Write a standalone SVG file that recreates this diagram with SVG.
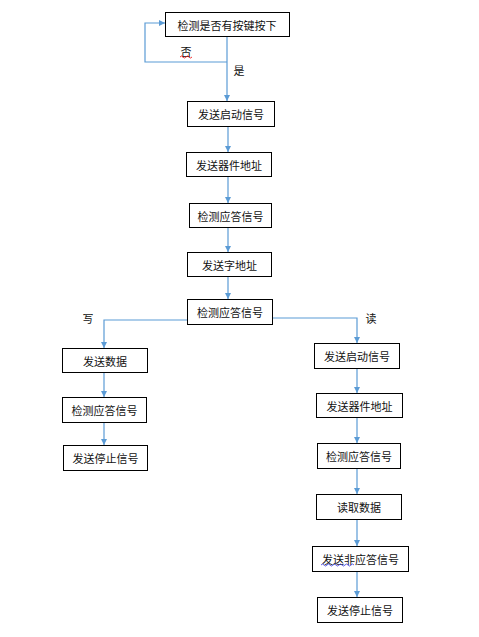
<svg xmlns="http://www.w3.org/2000/svg" width="479" height="637" viewBox="0 0 479 637">
<style>
.box rect{fill:#fff;stroke:#000;stroke-width:1}
text{font-family:"Noto Sans CJK SC","Liberation Sans",sans-serif;font-size:11px;fill:#111;text-anchor:middle;dominant-baseline:central}
.conn path{fill:none;stroke:#5B9BD5;stroke-width:1.2}
.sq{fill:none;stroke-width:0.8}
</style>
<defs>
<marker id="ah" viewBox="0 0 6 6" refX="6" refY="3" markerWidth="6" markerHeight="6" markerUnits="userSpaceOnUse" orient="auto">
<path d="M0,0 L6,3 L0,6 z" fill="#5B9BD5"/>
</marker>
</defs>
<rect width="479" height="637" fill="#fff"/>
<g class="conn" id="connectors">
<path d="M227,36 V101" marker-end="url(#ah)"/>
<path d="M227,62 H145 V23 H165" marker-end="url(#ah)"/>
<path d="M228,127 V152" marker-end="url(#ah)"/>
<path d="M228,177 V203" marker-end="url(#ah)"/>
<path d="M228,228 V252" marker-end="url(#ah)"/>
<path d="M228,277 V299" marker-end="url(#ah)"/>
<path d="M187,320 H104 V348" marker-end="url(#ah)"/>
<path d="M272,318 H357 V343" marker-end="url(#ah)"/>
<path d="M104,373 V397" marker-end="url(#ah)"/>
<path d="M104,423 V445" marker-end="url(#ah)"/>
<path d="M357,368 V393" marker-end="url(#ah)"/>
<path d="M357,417 V443" marker-end="url(#ah)"/>
<path d="M357,468 V494" marker-end="url(#ah)"/>
<path d="M357,519 V546" marker-end="url(#ah)"/>
<path d="M357,571 V597" marker-end="url(#ah)"/>
</g>
<g id="labels">
<text x="186" y="51">否</text>
<path class="sq" stroke="#e00" d="M180,57 q1.5,-2 3,0 t3,0 t3,0 t3,0"/>
<text x="239" y="70">是</text>
<text x="88" y="318">写</text>
<text x="371" y="318">读</text>
</g>
<g id="n1" class="box"><rect x="165.5" y="12.5" width="124" height="24"/><text x="227" y="24.5">检测是否有按键按下</text></g>
<g id="n2" class="box"><rect x="187.5" y="101.5" width="87" height="25"/><text x="231" y="114">发送启动信号</text></g>
<g id="n3" class="box"><rect x="186.5" y="152.5" width="85" height="24"/><text x="229" y="164.5">发送器件地址</text></g>
<g id="n4" class="box"><rect x="189.5" y="203.5" width="82" height="24"/><text x="230.5" y="215.5">检测应答信号</text></g>
<g id="n5" class="box"><rect x="187.5" y="252.5" width="84" height="24"/><text x="229.5" y="264.5">发送字地址</text></g>
<g id="n6" class="box"><rect x="187.5" y="299.5" width="85" height="25"/><text x="230" y="312">检测应答信号</text></g>
<g id="n7" class="box"><rect x="62.5" y="348.5" width="85" height="24"/><text x="105" y="360.5">发送数据</text></g>
<g id="n8" class="box"><rect x="62.5" y="397.5" width="84" height="25"/><text x="104.5" y="410">检测应答信号</text></g>
<g id="n9" class="box"><rect x="63.5" y="445.5" width="84" height="25"/><text x="105.5" y="458">发送停止信号</text></g>
<g id="n10" class="box"><rect x="314.5" y="343.5" width="85" height="25"/><text x="357" y="356">发送启动信号</text></g>
<g id="n11" class="box"><rect x="316.5" y="393.5" width="86" height="24"/><text x="359.5" y="405.5">发送器件地址</text></g>
<g id="n12" class="box"><rect x="317.5" y="443.5" width="83" height="25"/><text x="359" y="456">检测应答信号</text></g>
<g id="n13" class="box"><rect x="316.5" y="494.5" width="85" height="25"/><text x="359" y="507">读取数据</text></g>
<g id="n14" class="box"><rect x="312.5" y="546.5" width="96" height="25"/><text x="360.5" y="559">发送非应答信号</text></g>
<path class="sq" stroke="#33d" d="M321,565 q1.5,-2 3,0 t3,0 t3,0 t3,0 t3,0 t3,0 t3,0 t3,0 t3,0 t3,0 t3,0"/>
<g id="n15" class="box"><rect x="317.5" y="597.5" width="85" height="25"/><text x="360" y="610">发送停止信号</text></g>
</svg>
